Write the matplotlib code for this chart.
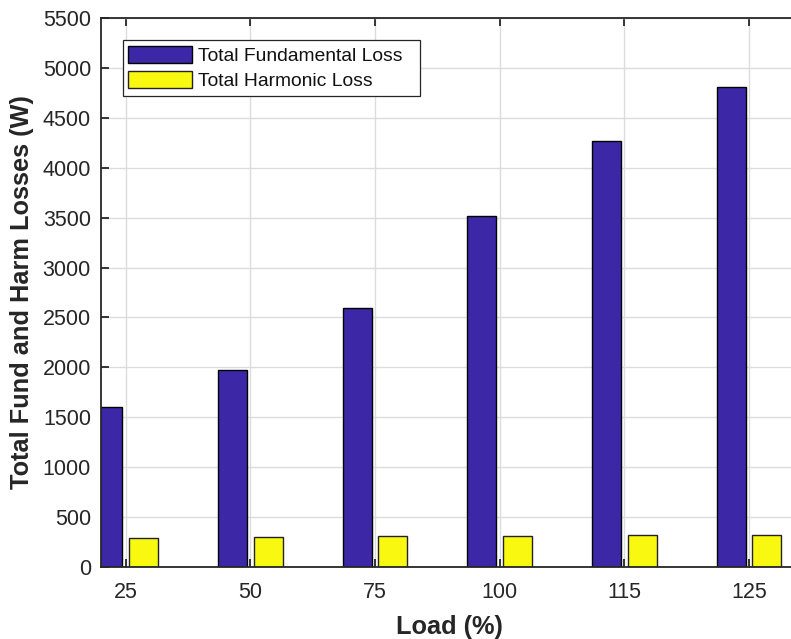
import matplotlib
matplotlib.use("Agg")
import matplotlib.pyplot as plt
import numpy as np

# Data
load_labels = ["25", "50", "75", "100", "115", "125"]
fundamental_loss = [1600, 1970, 2590, 3520, 4270, 4810]
harmonic_loss = [295, 305, 307, 314, 316, 320]
y_ticks = list(range(0, 5501, 500))

plt.rcParams["font.family"] = ["Liberation Sans", "DejaVu Sans"]

W, H = 791, 639
fig = plt.figure(figsize=(W / 100, H / 100), dpi=100)
ax_left, ax_right, ax_top, ax_bottom = 100.7, 799, 18, 567
ax = fig.add_axes([ax_left / W, 1 - ax_bottom / H,
                   (ax_right - ax_left) / W, (ax_bottom - ax_top) / H])

x = np.arange(1, len(load_labels) + 1)
bw = 0.232
off = 0.143
ax.bar(x - off, fundamental_loss, width=bw, color="#3C28A6",
       edgecolor="black", linewidth=1.0, label="Total Fundamental Loss", zorder=3)
ax.bar(x + off, harmonic_loss, width=bw, color="#F8F811",
       edgecolor="#222222", linewidth=1.0, label="Total Harmonic Loss", zorder=3)

ax.set_xlim(0.8, 6.4)
ax.set_ylim(0, 5500)
ax.set_xticks(x)
ax.set_xticklabels(load_labels)
ax.set_yticks(y_ticks)

ax.grid(True, color="#dcdcdc", linewidth=1.0, zorder=0)
ax.set_axisbelow(True)

for side in ["left", "bottom", "top", "right"]:
    ax.spines[side].set_color("#262626")
    ax.spines[side].set_linewidth(1.3)
    ax.spines[side].set_zorder(5)

ax.tick_params(axis="both", which="both", direction="in", length=5.5,
               width=1.3, color="#262626", labelsize=15.5, labelcolor="#262626",
               top=True, right=True)
ax.tick_params(axis="x", pad=10.5)
ax.tick_params(axis="y", pad=7)

ax.set_xlabel("Load (%)", fontsize=18.3, fontweight="bold", color="#262626",
              labelpad=9)
ax.set_ylabel("Total Fund and Harm Losses (W)", fontsize=18.3,
              fontweight="bold", color="#262626", labelpad=6)

aw = ax_right - ax_left
ah = ax_bottom - ax_top
leg = ax.legend(loc="upper left",
                bbox_to_anchor=((122.7 - ax_left) / aw, 1 - (40 - ax_top) / ah,
                                (420 - 122.7) / aw, 0.0),
                mode="expand", borderaxespad=0, fontsize=13.9,
                handlelength=3.3, handleheight=1.0, handletextpad=0.3,
                labelspacing=0.3, borderpad=0.3, fancybox=False,
                framealpha=1, edgecolor="#262626")
leg.get_frame().set_linewidth(0.9)
for t in leg.get_texts():
    t.set_color("#111111")

fig.savefig("out.png", dpi=100)
